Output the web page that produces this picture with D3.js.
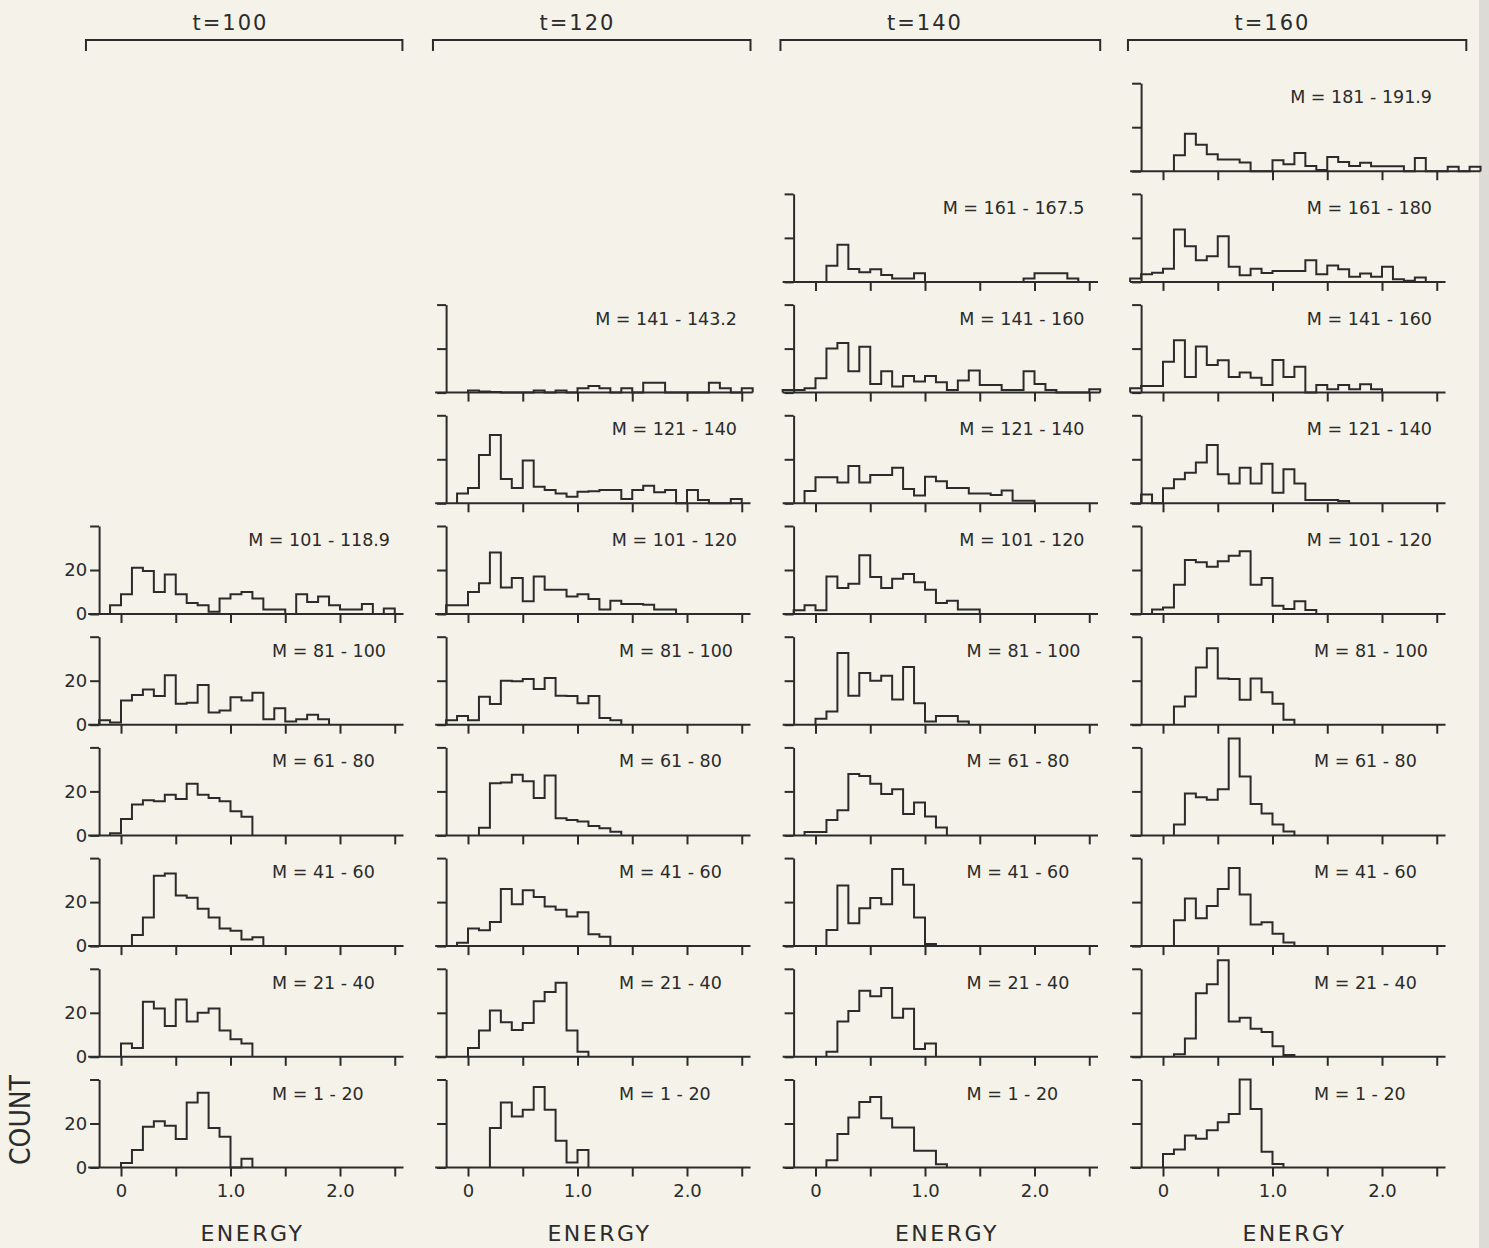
<!DOCTYPE html>
<html><head><meta charset="utf-8">
<script src="https://cdn.jsdelivr.net/npm/d3@7"></script>
<style>
body{margin:0;background:#f4f2e9;}
text{font-family:"DejaVu Sans",sans-serif;fill:#2b2b2b;}
</style></head>
<body><svg id="c" width="1489" height="1248"></svg>
<script>
// ---------------- data ----------------
const BIN = 0.1;                       // histogram bin width in energy units
const timeLabels = ["t=100", "t=120", "t=140", "t=160"];
const xTickValues = [0, 0.5, 1.0, 1.5, 2.0, 2.5];
const xTickLabels = {0: "0", 1: "1.0", 2: "2.0"};
const yTickValues = [0, 20, 40];

// each histogram: start energy of first bin, then counts per 0.1 bin
// t = 100
const t100_m1_20    = {start: 0.0, counts: [2, 8, 18.5, 21, 19, 13, 29.5, 34, 18, 14, 0, 4]};
const t100_m21_40   = {start: 0.0, counts: [6, 4, 25, 22, 14, 26, 16, 20, 22, 12, 8, 6]};
const t100_m41_60   = {start: 0.1, counts: [5, 13, 32, 33, 23, 22, 17, 13, 8, 7, 3, 4]};
const t100_m61_80   = {start: -0.1, counts: [1, 7.5, 14, 16, 15.5, 18.5, 16.5, 23.5, 18.5, 17, 15.5, 11, 8.5]};
const t100_m81_100  = {start: -0.2, counts: [2, 1, 11, 13.5, 16, 13, 22.5, 9.5, 10, 18, 5.5, 6.5, 12.5, 11, 14.5, 2.5, 7.5, 1.5, 2.5, 4.5, 2.5]};
const t100_m101_118 = {start: -0.1, counts: [4, 9, 21, 19.5, 10, 18, 9, 5, 4, 1, 7, 9, 10, 7, 2, 2, 0, 9, 5.5, 8, 4, 2, 2, 4.5, 0, 2.5]};
// t = 120
const t120_m1_20    = {start: 0.2, counts: [18, 29.5, 23.2, 26.3, 36.6, 26.3, 12.2, 2.3, 8]};
const t120_m21_40   = {start: 0.0, counts: [4, 12, 21, 15.7, 12.2, 15.4, 25.3, 29.5, 33.7, 12, 2.3]};
const t120_m41_60   = {start: -0.1, counts: [1.5, 8, 7.2, 11, 26, 19, 25.4, 22.3, 18, 16.5, 13.4, 15.4, 5.4, 4.2]};
const t120_m61_80   = {start: 0.1, counts: [3.5, 23.7, 24, 27.6, 24.6, 17, 27.2, 7.8, 7, 6.3, 4.3, 3.2, 1.7]};
const t120_m81_100  = {start: -0.2, counts: [2, 4, 2, 12.7, 9.4, 20, 19.7, 20.8, 16.2, 21.2, 13.2, 13, 9.8, 13, 3, 2]};
const t120_m101_120 = {start: -0.2, counts: [4, 4, 10, 14, 28, 12, 16.4, 5.8, 17.1, 11, 11, 8, 9, 6.8, 2, 6, 4.5, 4.5, 4.2, 2, 2]};
const t120_m121_140 = {start: -0.1, counts: [4.4, 7, 22, 31, 11, 7, 19.5, 7.5, 6, 4.4, 3, 5.3, 5.5, 6, 6, 2, 6, 8, 5, 6, 0, 6, 1.5, 0, 0, 2]};
const t120_m141_143 = {start: 0.0, counts: [1, 0.5, 0.3, 0, 0, 0, 1, 0, 1, 0, 2, 3, 2, 0, 2, 0, 4.5, 4.5, 0, 0, 0, 0, 4.5, 2, 0, 2]};
// t = 140
const t140_m1_20    = {start: 0.1, counts: [3.3, 15.2, 22.7, 29.8, 32, 22.4, 18.2, 18.2, 7.6, 7.6, 1.5]};
const t140_m21_40   = {start: 0.1, counts: [2.3, 16, 20.8, 30, 27.5, 31.3, 17.7, 21.8, 3.5, 6]};
const t140_m41_60   = {start: 0.1, counts: [7.3, 27.6, 10.4, 17.2, 21.9, 19, 35, 27.9, 13, 1]};
const t140_m61_80   = {start: -0.1, counts: [1.5, 1.5, 7, 11.4, 27.9, 27, 23.5, 18.8, 21, 9.7, 15, 8.6, 3.6]};
const t140_m81_100  = {start: 0.0, counts: [2.7, 6, 32.6, 13.2, 23.5, 20, 22.3, 11.4, 26.2, 9.8, 1.5, 4, 4, 1.5]};
const t140_m101_120 = {start: -0.2, counts: [1.7, 4, 1.7, 17, 11.8, 13.8, 26.7, 16.8, 11.8, 16, 18.2, 14.4, 11, 5, 6, 2, 2]};
const t140_m121_140 = {start: -0.1, counts: [5.6, 11.8, 11.8, 9.5, 17, 9.5, 12.9, 12.9, 16.2, 6.5, 3.5, 12.1, 10, 7, 7, 4.5, 4.5, 3.8, 5.8, 1.2, 1.2]};
const t140_m141_160 = {start: -0.3, counts: [1.2, 1.2, 2, 6.5, 20, 22.6, 9.7, 20.8, 3.9, 9.7, 2.8, 7.5, 5, 7.5, 4.7, 1.2, 5.5, 10, 3.4, 3.4, 1.2, 1.2, 9.7, 3.9, 1.2, 0, 0, 0, 1.5]};
const t140_m161_167 = {start: 0.1, counts: [7.3, 16.9, 5.9, 4.4, 5.8, 3.1, 1.6, 1.6, 3.9, 0, 0, 0, 0, 0, 0, 0, 0, 0, 1.6, 3.9, 3.9, 3.9, 1.6]};
// t = 160
const t160_m1_20    = {start: 0.0, counts: [6.1, 8.2, 14.6, 13.1, 16.9, 20.6, 24.3, 40, 26.6, 7.2, 1.6]};
const t160_m21_40   = {start: 0.1, counts: [1.2, 8.3, 28.9, 33, 43.9, 16.1, 17.7, 12.8, 11.3, 4.8, 0.8]};
const t160_m41_60   = {start: 0.1, counts: [11.8, 21.6, 12.7, 18.2, 26, 35.5, 23.4, 9.8, 10.8, 5.6, 1.6]};
const t160_m61_80   = {start: 0.1, counts: [5, 19, 17.3, 16.2, 21, 44, 26.8, 14.3, 10, 5, 1.8]};
const t160_m81_100  = {start: 0.1, counts: [8.3, 12.8, 26, 34.7, 21, 20.8, 11.3, 21, 14.7, 9.5, 2.3]};
const t160_m101_120 = {start: -0.1, counts: [2, 3, 13.3, 24.5, 23.5, 21.5, 24, 26.5, 28.5, 13.3, 16.4, 3.8, 2.3, 5.8, 1.8]};
const t160_m121_140 = {start: -0.2, counts: [4, 0, 6.8, 10.9, 13.9, 18.5, 26.5, 13.2, 9, 16.2, 9, 18, 4.8, 15.5, 9, 1.5, 1.5, 1.5, 1]};
const t160_m141_160 = {start: -0.3, counts: [2, 3, 3, 14, 23.8, 7.1, 21, 12.6, 14.7, 7.1, 9.1, 6.8, 3.5, 14.8, 7.1, 11.7, 0, 3.5, 1.5, 3.5, 1.5, 3.8, 1.5]};
const t160_m161_180 = {start: -0.3, counts: [1.5, 3.5, 4.2, 6, 23.8, 16.2, 9.8, 11.7, 20.8, 6.9, 3, 6, 4, 5, 5, 5, 9.8, 3.5, 7.5, 5.7, 2.3, 3.8, 2.3, 6.9, 1.2, 0.5, 2]};
const t160_m181_191 = {start: 0.1, counts: [7.2, 17, 12, 7.7, 5.3, 5.3, 3.9, 0, 0, 5, 3.2, 8.3, 2.4, 0.5, 6.5, 4.2, 2.4, 3.8, 2.3, 2.3, 2.3, 0, 6, 0, 0, 2, 0, 2]};

// panels per column, bottom row first
const col100 = [t100_m1_20, t100_m21_40, t100_m41_60, t100_m61_80, t100_m81_100, t100_m101_118];
const col120 = [t120_m1_20, t120_m21_40, t120_m41_60, t120_m61_80, t120_m81_100, t120_m101_120, t120_m121_140, t120_m141_143];
const col140 = [t140_m1_20, t140_m21_40, t140_m41_60, t140_m61_80, t140_m81_100, t140_m101_120, t140_m121_140, t140_m141_160, t140_m161_167];
const col160 = [t160_m1_20, t160_m21_40, t160_m41_60, t160_m61_80, t160_m81_100, t160_m101_120, t160_m121_140, t160_m141_160, t160_m161_180, t160_m181_191];

const lab100 = ["M = 1 - 20", "M = 21 - 40", "M = 41 - 60", "M = 61 - 80", "M = 81 - 100", "M = 101 - 118.9"];
const lab120 = ["M = 1 - 20", "M = 21 - 40", "M = 41 - 60", "M = 61 - 80", "M = 81 - 100", "M = 101 - 120", "M = 121 - 140", "M = 141 - 143.2"];
const lab140 = ["M = 1 - 20", "M = 21 - 40", "M = 41 - 60", "M = 61 - 80", "M = 81 - 100", "M = 101 - 120", "M = 121 - 140", "M = 141 - 160", "M = 161 - 167.5"];
const lab160 = ["M = 1 - 20", "M = 21 - 40", "M = 41 - 60", "M = 61 - 80", "M = 81 - 100", "M = 101 - 120", "M = 121 - 140", "M = 141 - 160", "M = 161 - 180", "M = 181 - 191.9"];

const columns = [col100, col120, col140, col160];
const columnLabels = [lab100, lab120, lab140, lab160];

// ---------------- layout ----------------
const INK = "#2b2b2b";
const colX0 = [121, 468, 815.5, 1163];   // pixel of energy 0 in each column
const UNIT = 109.5;                      // pixels per energy unit
const ROW0_BASE = 1167.5, ROW_STEP = 110.7, Y_PIX40 = 88;
const bracketEnd = [2.57, 2.58, 2.6, 2.77];

const svg = d3.select("#c");
svg.append("rect").attr("width", 1489).attr("height", 1248).attr("fill", "#f4f2e9");
svg.append("rect").attr("x", 1479).attr("width", 10).attr("height", 1248).attr("fill", "#dcdbd5");

const line = d3.line();

columns.forEach((panels, ci) => {
  const x = d3.scaleLinear().domain([0, 1]).range([colX0[ci], colX0[ci] + UNIT]);

  // header
  svg.append("text").attr("x", x(1.0)).attr("y", 30).attr("text-anchor", "middle")
    .attr("font-size", 21).attr("letter-spacing", 2).text(timeLabels[ci]);
  svg.append("path")
    .attr("d", `M${x(-0.32)},51V40H${x(bracketEnd[ci])}V51`)
    .attr("fill", "none").attr("stroke", INK).attr("stroke-width", 2);

  // ENERGY title
  svg.append("text").attr("x", x(1.2)).attr("y", 1241).attr("text-anchor", "middle")
    .attr("font-size", 22).attr("letter-spacing", 2.5).text("ENERGY");

  panels.forEach((h, ri) => {
    const base = ROW0_BASE - ROW_STEP * ri;
    const y = d3.scaleLinear().domain([0, 40]).range([base, base - Y_PIX40]);
    const g = svg.append("g");
    const end = h.start + h.counts.length * BIN;

    // baseline
    g.append("line").attr("x1", x(-0.3)).attr("x2", x(Math.max(2.58, end)))
      .attr("y1", y(0)).attr("y2", y(0)).attr("stroke", INK).attr("stroke-width", 2);

    // x ticks
    const xa = d3.axisBottom(x).tickValues(xTickValues).tickSize(9).tickSizeOuter(0).tickPadding(8)
      .tickFormat(ri === 0 ? (d => xTickLabels[d] || "") : () => "");
    const gx = g.append("g").attr("transform", `translate(0,${y(0)})`).call(xa);
    gx.select(".domain").remove();
    gx.selectAll("line").attr("stroke", INK).attr("stroke-width", 2);
    gx.selectAll("text").attr("font-size", 18).attr("fill", INK)
      .attr("font-family", "DejaVu Sans, sans-serif");

    // y axis
    const ya = d3.axisLeft(y).tickValues(yTickValues).tickSize(9).tickSizeOuter(0).tickPadding(3)
      .tickFormat(ci === 0 ? (d => d === 40 ? "" : String(d)) : () => "");
    const gy = g.append("g").attr("transform", `translate(${x(-0.2)},0)`).call(ya);
    gy.select(".domain").attr("stroke", INK).attr("stroke-width", 2);
    gy.selectAll("line").attr("stroke", INK).attr("stroke-width", 2);
    gy.selectAll("text").attr("font-size", 18).attr("fill", INK)
      .attr("font-family", "DejaVu Sans, sans-serif");

    // histogram outline
    const pts = [[h.start, 0]];
    h.counts.forEach((c, i) => {
      const e0 = h.start + i * BIN;
      pts.push([e0, c], [e0 + BIN, c]);
    });
    pts.push([end, 0]);
    g.append("path")
      .attr("d", line(pts.map(p => [x(p[0]), y(p[1])])))
      .attr("fill", "none").attr("stroke", INK).attr("stroke-width", 2)
      .attr("stroke-linejoin", "miter");

    // mass label
    const t = g.append("text").attr("x", x(0) + 151).attr("y", y(0) - 68)
      .attr("font-size", 17.5).text(columnLabels[ci][ri]);
    if (t.node().getComputedTextLength() > 120) {
      t.attr("x", x(0) + 269).attr("text-anchor", "end");
    }
  });
});

// COUNT title
svg.append("text").attr("transform", "translate(30,1120) rotate(-90)")
  .attr("text-anchor", "middle").attr("font-size", 28)
  .attr("textLength", 90).attr("lengthAdjust", "spacingAndGlyphs").text("COUNT");
</script>
</body></html>
